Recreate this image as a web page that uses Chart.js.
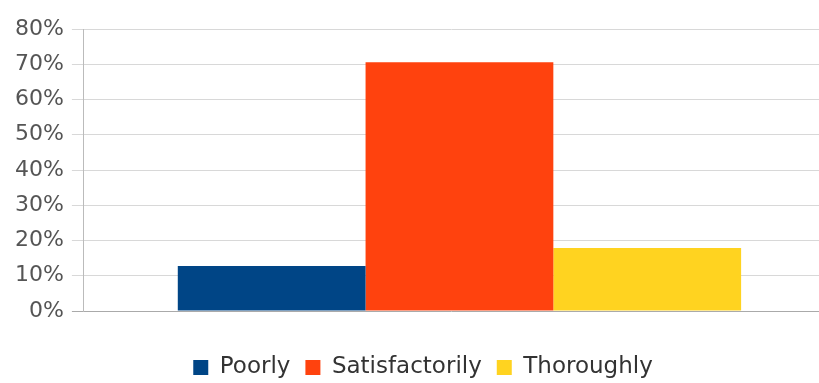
<!DOCTYPE html>
<html>
<head>
<meta charset="utf-8">
<script src="https://cdn.jsdelivr.net/npm/chart.js@4"></script>
<style>
  html, body { margin: 0; padding: 0; background: #fff; }
  #wrap { width: 819px; height: 383px; }
</style>
</head>
<body>
<div id="wrap"><canvas id="answers" width="819" height="383"></canvas></div>
<script>
// chart data
const categories = [''];
const seriesNames = ['Poorly', 'Satisfactorily', 'Thoroughly'];
const seriesValues = [[12.8], [70.6], [17.9]];
const seriesColors = ['#004586', '#ff420e', '#ffd320'];
const yTicks = [0, 10, 20, 30, 40, 50, 60, 70, 80];

// small layout nudges: the bar group in the original sits a bit right of
// centre (stretch the hidden x scale past the edge), and the legend row is low
const nudges = {
  id: 'nudges',
  afterLayout(chart) {
    const x = chart.scales.x;
    x.right += 16;
    x.width += 16;
    x.configure();
    const lg = chart.legend;
    lg.top += 6;
    lg.bottom += 6;
    lg.left += 10;
    lg.right += 10;
  }
};

const ctx = document.getElementById('answers').getContext('2d');

new Chart(ctx, {
  type: 'bar',
  data: {
    labels: categories,
    datasets: seriesNames.map((name, i) => ({
      label: name,
      data: seriesValues[i],
      backgroundColor: seriesColors[i],
      borderWidth: 0,
      barPercentage: 1,
      categoryPercentage: 0.75
    }))
  },
  options: {
    responsive: false,
    animation: false,
    layout: { padding: { left: 7, right: 0, top: 29, bottom: 0 } },
    scales: {
      x: {
        grid: { display: false },
        border: { display: false },
        ticks: { display: false },
        afterFit: axis => { axis.height = 24; }
      },
      y: {
        min: yTicks[0],
        max: yTicks[yTicks.length - 1],
        afterBuildTicks: axis => { axis.ticks = yTicks.map(v => ({ value: v })); },
        ticks: {
          padding: 8,
          color: '#555',
          font: { family: 'DejaVu Sans', size: 22 },
          callback: v => v + '%'
        },
        grid: {
          tickLength: 12,
          color: c => c.tick && c.tick.value === 0 ? '#aaaaaa' : '#d8d8d8'
        },
        border: { color: '#bbbbbb' }
      }
    },
    plugins: {
      legend: {
        position: 'bottom',
        labels: {
          boxWidth: 15,
          boxHeight: 15,
          padding: 15,
          color: '#333',
          font: { family: 'DejaVu Sans', size: 23, lineHeight: 0.2 }
        }
      },
      tooltip: { enabled: false }
    }
  },
  plugins: [nudges]
});
</script>
</body>
</html>
